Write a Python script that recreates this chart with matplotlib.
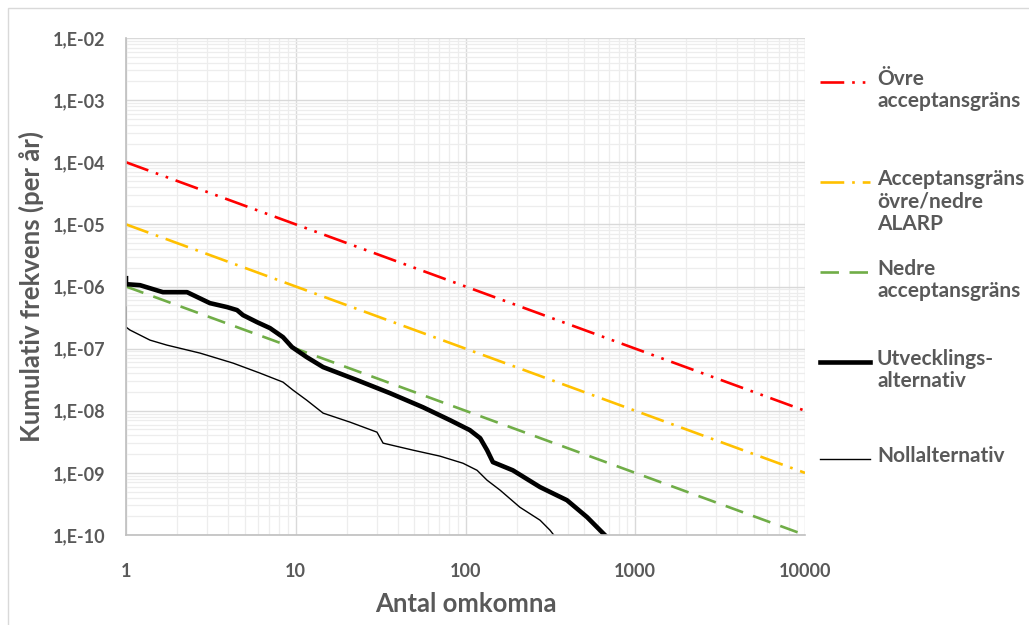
import numpy as np
import matplotlib
matplotlib.use("Agg")
import matplotlib.pyplot as plt
from matplotlib.lines import Line2D
from matplotlib.patches import Rectangle
from matplotlib.ticker import FixedLocator, LogLocator, NullFormatter

plt.rcParams['font.family'] = ['Lato', 'DejaVu Sans']

# data
limit_x = [1, 10000]
upper_limit = [1e-4, 1e-8]     # Övre acceptansgräns
alarp_limit = [1e-5, 1e-9]     # Acceptansgräns övre/nedre ALARP
lower_limit = [1e-6, 1e-10]    # Nedre acceptansgräns

utv_x = [1, 1, 1.21, 1.65, 2.29, 3.12, 3.94, 4.51, 4.89, 5.91, 7.05, 8.41, 9.5,
         11.6, 14.5, 23, 35.9, 56.1, 81, 106, 122, 134, 145, 190, 275, 396, 520, 664]
utv_y = [1.36e-6, 1.09e-6, 1.05e-6, 8.1e-7, 8.1e-7, 5.4e-7, 4.66e-7, 4.17e-7, 3.46e-7,
         2.67e-7, 2.14e-7, 1.53e-7, 1.06e-7, 7.3e-8, 5.04e-8, 3.11e-8, 1.92e-8, 1.14e-8,
         7.06e-9, 4.88e-9, 3.62e-9, 2.32e-9, 1.49e-9, 1.1e-9, 5.9e-10, 3.63e-10, 1.94e-10, 9.9e-11]

noll_x = [1, 1, 1.056, 1.385, 1.74, 2.73, 4.27, 6.15, 8.41, 9.63, 11.6, 14.5, 20.9,
          30.1, 32.7, 49.1, 70.7, 96.6, 117, 134, 160, 209, 275, 315, 332]
noll_y = [4.66e-7, 2.22e-7, 1.99e-7, 1.37e-7, 1.14e-7, 8.47e-8, 5.85e-8, 4.04e-8,
          2.89e-8, 2.15e-8, 1.48e-8, 9.15e-9, 6.55e-9, 4.52e-9, 3.01e-9, 2.32e-9,
          1.86e-9, 1.43e-9, 1.1e-9, 7.62e-10, 5.26e-10, 2.8e-10, 1.73e-10, 1.19e-10, 9.9e-11]

y_ticks = [10.0 ** -k for k in range(2, 11)]
y_ticklabels = ["1,E-%02d" % k for k in range(2, 11)]
x_ticks = [1, 10, 100, 1000, 10000]
x_ticklabels = ["1", "10", "100", "1000", "10000"]

legend_labels = ["Övre\nacceptansgräns",
                 "Acceptansgräns\növre/nedre\nALARP",
                 "Nedre\nacceptansgräns",
                 "Utvecklings-\nalternativ",
                 "Nollalternativ"]

TXT = "#595959"
RED = "#FF0000"
YEL = "#FFC000"
GRN = "#70AD47"

fig = plt.figure(figsize=(10.29, 6.25), dpi=100)
ax = fig.add_axes([126 / 1029, 1 - 535 / 625, (805 - 126) / 1029, (535 - 38) / 625])

red_style = dict(color=RED, lw=1.9, dashes=(9, 3, 1, 3, 1, 3))
yel_style = dict(color=YEL, lw=1.9, dashes=(9, 3, 1, 3))
grn_style = dict(color=GRN, lw=1.9, dashes=(7, 4))
utv_style = dict(color="black", lw=3.3)
noll_style = dict(color="black", lw=1.0)

ax.plot(limit_x, upper_limit, **red_style)
ax.plot(limit_x, alarp_limit, **yel_style)
ax.plot(limit_x, lower_limit, **grn_style)
ax.plot(utv_x, utv_y, **utv_style)
ax.plot(noll_x, noll_y, **noll_style)

ax.set_xscale("log")
ax.set_yscale("log")
ax.set_xlim(1, 10000)
ax.set_ylim(1e-10, 1e-2)

ax.yaxis.set_major_locator(FixedLocator(y_ticks))
ax.set_yticklabels(y_ticklabels)
ax.xaxis.set_major_locator(FixedLocator(x_ticks))
ax.set_xticklabels(x_ticklabels)
ax.xaxis.set_minor_locator(LogLocator(base=10, subs=np.arange(2, 10)))
ax.yaxis.set_minor_locator(LogLocator(base=10, subs=np.arange(2, 10), numticks=20))
ax.xaxis.set_minor_formatter(NullFormatter())
ax.yaxis.set_minor_formatter(NullFormatter())

ax.grid(which="major", color="#D9D9D9", lw=1.0)
ax.grid(which="minor", color="#EDEDED", lw=0.9)
ax.set_axisbelow(True)
ax.tick_params(which="both", length=0)
ax.tick_params(axis="y", pad=15, labelsize=13, labelcolor=TXT)
ax.tick_params(axis="x", pad=20, labelsize=13, labelcolor=TXT)
for lbl in ax.get_xticklabels() + ax.get_yticklabels():
    lbl.set_fontweight("bold")

for side in ["top", "right"]:
    ax.spines[side].set_visible(False)
for side in ["left", "bottom"]:
    ax.spines[side].set_color("#BFBFBF")
    ax.spines[side].set_linewidth(1.2)

ax.set_ylabel("Kumulativ frekvens (per år)", fontsize=18.5, fontweight="bold", color=TXT, labelpad=6)
ax.set_xlabel("Antal omkomna", fontsize=18.5, fontweight="bold", color=TXT, labelpad=9)

# outer chart frame
fig.add_artist(Rectangle((8 / 1029, -0.1), 1.2, (625 - 8) / 625 + 0.1, transform=fig.transFigure,
                         fill=False, ec="#D9D9D9", lw=1.0))

# legend, drawn by hand so the handle sits on the first text line
styles = [red_style, yel_style, grn_style, utv_style, noll_style]
ys = [82, 182, 272, 362, 459]
for lab, st, yp in zip(legend_labels, styles, ys):
    yf = 1 - yp / 625
    fig.add_artist(Line2D([820 / 1029, 870 / 1029], [yf, yf], transform=fig.transFigure, **st))
    fig.text(877 / 1029, yf + 13 / 625, lab, ha="left", va="top", fontsize=15,
             fontweight="bold", color=TXT, linespacing=1.15)

fig.savefig("out.png", dpi=100)
